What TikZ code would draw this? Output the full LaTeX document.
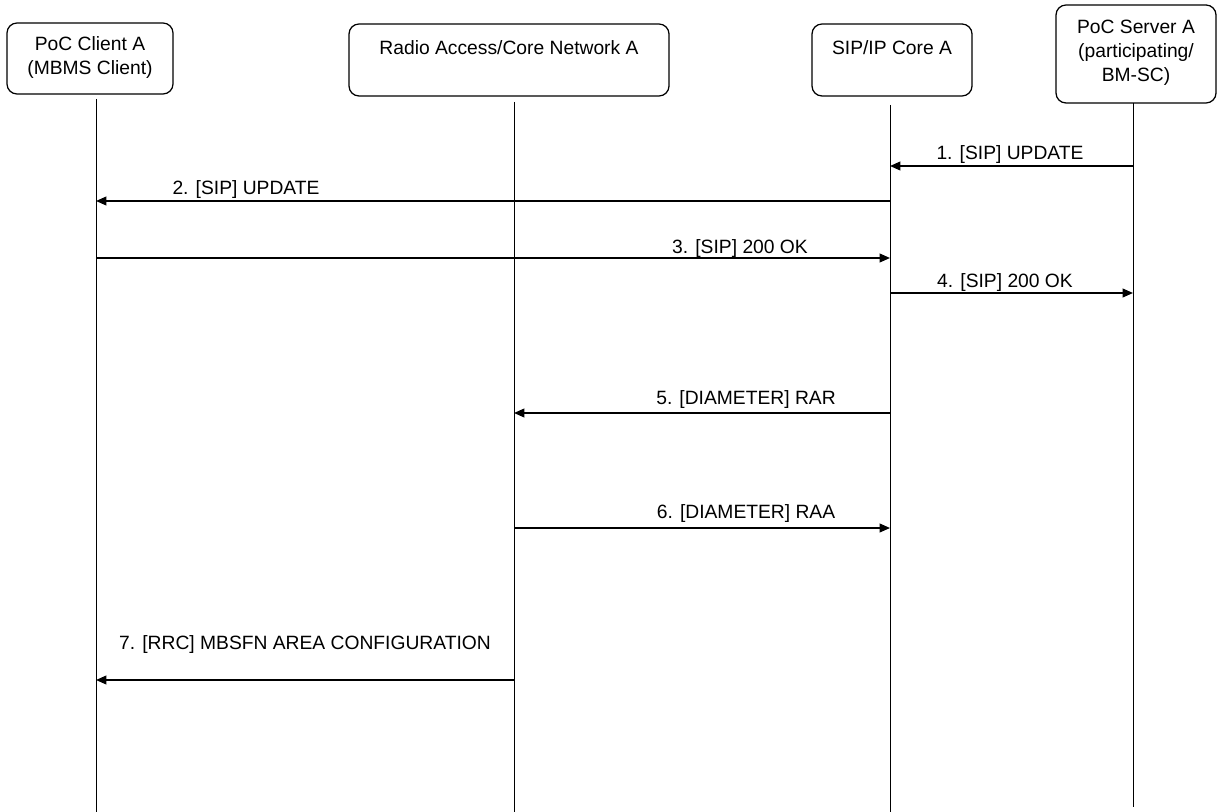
\documentclass[tikz,border=0pt]{standalone}
\usepackage{fontspec}
\setmainfont{Liberation Sans}
\usetikzlibrary{arrows.meta}

\begin{document}
\begin{tikzpicture}[scale=0.25]
    \tikzstyle{every node}+=[inner sep=0pt, font=\fontsize{13.7}{17.1}\selectfont]
    \tikzstyle{entity}=[draw=black, line width=0.9pt, rounded corners=2.5mm, align=center]
    \tikzstyle{life}=[black, line width=0.7pt]
    \tikzstyle{msg}=[black, line width=1.1pt, -{Triangle[length=2.6mm,width=2.2mm]}]
    \useasboundingbox (0,0) rectangle (121.7,-81.2);
    % entities
    \node [entity, minimum width=4.15cm, minimum height=1.775cm] (client) at (9.0,-5.85) {PoC Client A\\(MBMS Client)\rule[-0.6ex]{0pt}{0pt}};
    \node [entity, minimum width=8.0cm, minimum height=1.8cm] (ran) at (50.9,-6.0) {Radio Access/Core Network A\\~};
    \node [entity, minimum width=4.0cm, minimum height=1.8cm] (sipcore) at (89.2,-6.0) {SIP/IP Core A\\~};
    \node [entity, minimum width=4.0cm, minimum height=2.45cm] (server) at (113.6,-5.4) {PoC Server A\\(participating/\\BM-SC)\rule[-0.6ex]{0pt}{0pt}};
    % lifelines
    \coordinate (clientTop) at (9.6,-9.9);
    \coordinate (clientEnd) at (9.6,-81.2);
    \coordinate (ranTop) at (51.4,-10.2);
    \coordinate (ranEnd) at (51.4,-81.2);
    \coordinate (sipTop) at (89.0,-10.5);
    \coordinate (sipEnd) at (89.0,-81.2);
    \coordinate (serverTop) at (113.3,-10.3);
    \coordinate (serverEnd) at (113.3,-80.7);
    \draw [life] (clientTop) -- (clientEnd);
    \draw [life] (ranTop) -- (ranEnd);
    \draw [life] (sipTop) -- (sipEnd);
    \draw [life] (serverTop) -- (serverEnd);
    % message rows
    \coordinate (m1) at (0,-16.6);
    \coordinate (m2) at (0,-20.1);
    \coordinate (m3) at (0,-25.8);
    \coordinate (m4) at (0,-29.3);
    \coordinate (m5) at (0,-41.3);
    \coordinate (m6) at (0,-52.8);
    \coordinate (m7) at (0,-68.0);
    % messages
    \draw [msg] (serverTop |- m1) -- (sipTop |- m1);
    \draw (101.0,-15.5) node (l1) {1. [SIP] UPDATE};
    \draw [msg] (sipTop |- m2) -- (clientTop |- m2);
    \draw (24.6,-19.0) node (l2) {2. [SIP] UPDATE};
    \draw [msg] (clientTop |- m3) -- (sipTop |- m3);
    \draw (74.0,-24.9) node (l3) {3. [SIP] 200 OK};
    \draw [msg] (sipTop |- m4) -- (serverTop |- m4);
    \draw (100.5,-28.3) node (l4) {4. [SIP] 200 OK};
    \draw [msg] (sipTop |- m5) -- (ranTop |- m5);
    \draw (74.6,-40.0) node (l5) {5. [DIAMETER] RAR};
    \draw [msg] (ranTop |- m6) -- (sipTop |- m6);
    \draw (74.6,-51.4) node (l6) {6. [DIAMETER] RAA};
    \draw [msg] (ranTop |- m7) -- (clientTop |- m7);
    \draw (30.5,-64.5) node (l7) {7. [RRC] MBSFN AREA CONFIGURATION};
\end{tikzpicture}
\end{document}
